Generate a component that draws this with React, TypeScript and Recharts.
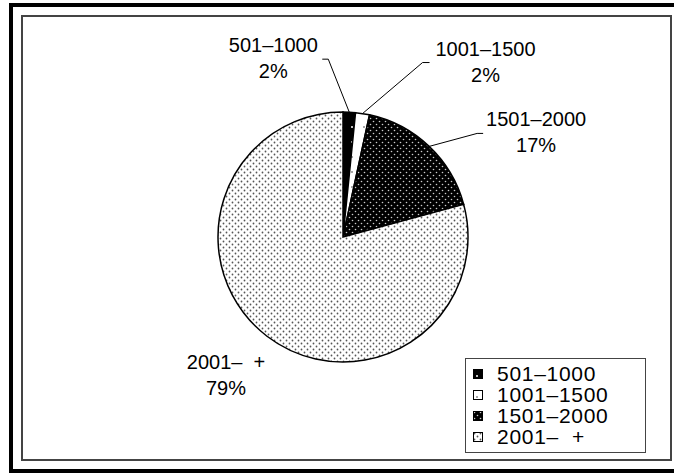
import React from 'react';
import { PieChart, Pie, Cell, Legend } from 'recharts';

const categories = ['501–1000', '1001–1500', '1501–2000', '2001–  +'];
const shares = [1.6, 1.8, 17.4, 79.2];

const data = categories.map((name, i) => ({ name, value: shares[i] }));

const FONT = '"Liberation Sans", Arial, Helvetica, sans-serif';
const RAD = Math.PI / 180;

// label placement offsets relative to the slice's outer edge point
const labelOffsets = [
  { dx: -76, dy: -60, line: [[-21, -53], [-27, -53]] },
  { dx: 123, dy: -58, line: [[60, -51], [67, -51]] },
  { dx: 107, dy: -20, line: [[48, -13], [54, -13]] },
  { dx: -41, dy: 33, line: null as null | number[][] },
];

const edgePoint = (cx: number, cy: number, r: number, midAngle: number) => ({
  x: cx + r * Math.cos(-midAngle * RAD),
  y: cy + r * Math.sin(-midAngle * RAD),
});

const renderLabel = (props: any) => {
  const { cx, cy, midAngle, outerRadius, percent, index, name } = props;
  const e = edgePoint(cx, cy, outerRadius, midAngle);
  const o = labelOffsets[index];
  const tx = e.x + o.dx;
  const ty = e.y + o.dy;
  return (
    <g key={`lbl-${index}`}>
      {o.line && (
        <polyline
          points={`${e.x},${e.y} ${e.x + o.line[0][0]},${e.y + o.line[0][1]} ${e.x + o.line[1][0]},${e.y + o.line[1][1]}`}
          fill="none"
          stroke="#000"
          strokeWidth={1}
        />
      )}
      <text
        x={tx}
        y={ty}
        textAnchor="middle"
        fontSize={20}
        fontFamily={FONT}
        fill="#000"
        style={{ whiteSpace: 'pre' }}
      >
        <tspan x={tx}>{name}</tspan>
        <tspan x={tx} dy={26}>{`${Math.round(percent * 100)}%`}</tspan>
      </text>
    </g>
  );
};

const renderLegend = (props: any) => {
  const payload = [...(props.payload || [])].sort(
    (a: any, b: any) => categories.indexOf(a.value) - categories.indexOf(b.value)
  );
  return (
    <div
      style={{
        boxSizing: 'border-box',
        width: 181,
        height: 95,
        border: '1.5px solid #444',
        background: '#fff',
        padding: '4px 0 0 7px',
        fontFamily: FONT,
        fontSize: 21,
        lineHeight: '21px',
        color: '#000',
      }}
    >
      {payload.map((entry: any, i: number) => {
        const idx = categories.indexOf(entry.value);
        const k = idx >= 0 ? idx : i;
        return (
          <div key={i} style={{ display: 'flex', alignItems: 'center', height: 21 }}>
            <svg width={10} height={10} style={{ marginRight: 14, flex: 'none' }}>
              <rect x={0.5} y={0.5} width={9} height={9} fill={`url(#pat${k})`} stroke="#000" strokeWidth={1} />
            </svg>
            <span style={{ whiteSpace: 'pre', letterSpacing: '0.7px' }}>{entry.value}</span>
          </div>
        );
      })}
    </div>
  );
};

export default function App() {
  return (
    <div style={{ position: 'fixed', left: 0, top: 0, width: 674, height: 473, overflow: 'hidden', background: '#fff' }}>
      <div
        style={{
          position: 'absolute',
          left: 9,
          top: 3,
          width: 700,
          height: 470,
          boxSizing: 'border-box',
          border: '4px solid #000',
        }}
      />
      <div
        style={{
          position: 'absolute',
          left: 21,
          top: 15,
          width: 651,
          height: 446,
          boxSizing: 'border-box',
          border: '2px solid #444',
        }}
      />
      <div style={{ position: 'absolute', left: 0, top: 0 }}>
        <PieChart width={674} height={473} margin={{ top: 0, right: 0, bottom: 0, left: 0 }}>
          <defs>
            <pattern id="pat0" patternUnits="userSpaceOnUse" width={12} height={15}>
              <rect width={12} height={15} fill="#000" />
              <circle cx={4} cy={7} r={1} fill="#fff" />
            </pattern>
            <pattern id="pat1" patternUnits="userSpaceOnUse" width={12} height={15}>
              <rect width={12} height={15} fill="#fff" />
              <circle cx={4} cy={7} r={1} fill="#888" />
            </pattern>
            <pattern id="pat2" patternUnits="userSpaceOnUse" width={6} height={6}>
              <rect width={6} height={6} fill="#000" />
              <circle cx={1.5} cy={1.5} r={0.8} fill="#ccc" />
              <circle cx={4.5} cy={4.5} r={0.8} fill="#ccc" />
            </pattern>
            <pattern id="pat3" patternUnits="userSpaceOnUse" width={6} height={6}>
              <rect width={6} height={6} fill="#fff" />
              <circle cx={1.5} cy={1.5} r={0.9} fill="#555" />
              <circle cx={4.5} cy={4.5} r={0.9} fill="#555" />
            </pattern>
          </defs>
          <Pie
            data={data}
            dataKey="value"
            nameKey="name"
            cx={343}
            cy={237}
            outerRadius={125}
            startAngle={90}
            endAngle={-270}
            stroke="#000"
            strokeWidth={1.5}
            isAnimationActive={false}
            label={renderLabel}
            labelLine={false}
          >
            {data.map((d, i) => (
              <Cell key={d.name} fill={`url(#pat${i})`} />
            ))}
          </Pie>
          <Legend
            content={renderLegend}
            layout="vertical"
            wrapperStyle={{ left: 465, top: 358, width: 181, height: 95, bottom: 'auto', right: 'auto' }}
          />
        </PieChart>
      </div>
    </div>
  );
}
